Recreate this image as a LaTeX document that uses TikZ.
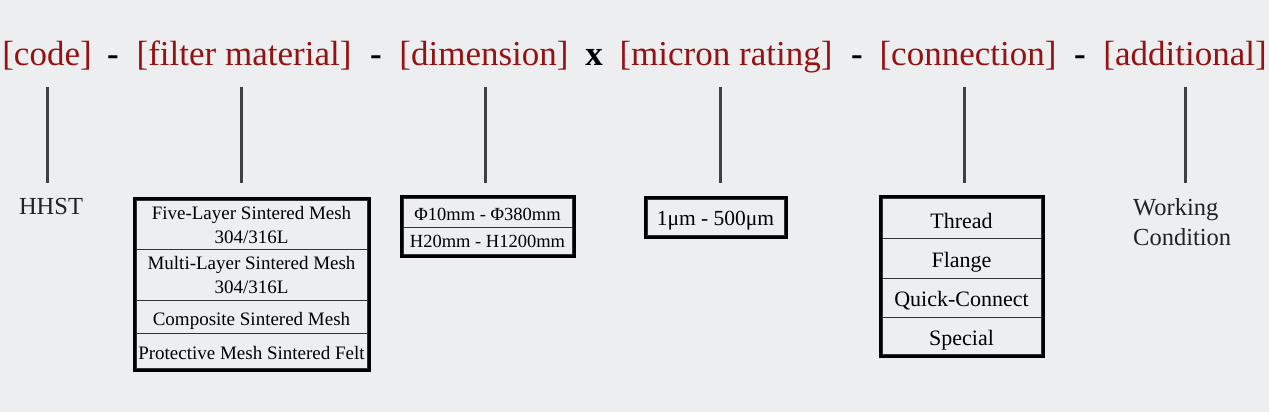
\documentclass[tikz,border=0pt]{standalone}
\usepackage{fontspec}
\setmainfont{Liberation Serif}
\usetikzlibrary{positioning, fit}
\definecolor{pagegray}{HTML}{EDEEF0}
\definecolor{codered}{HTML}{951212}
\definecolor{stemgray}{HTML}{404040}
\definecolor{labelgray}{HTML}{222222}

\begin{document}
\begin{tikzpicture}[x=1pt, y=-1pt,
		head/.style={text=codered, font=\fontsize{35}{40}\selectfont, anchor=base, inner sep=0pt},
		joiner/.style={font=\fontsize{35}{40}\bfseries\selectfont, anchor=base, inner sep=0pt},
		stem/.style={draw=stemgray, line width=3pt},
		cell/.style={draw=black!80, line width=1pt, align=center, inner sep=0pt, outer sep=0pt, anchor=north},
		onerow/.style={cell, text height=17pt, text depth=0pt},
		frame/.style={draw=black, line width=3pt, inner sep=2pt},
		plain/.style={text=labelgray, font=\fontsize{24.5}{30}\selectfont, align=left, inner sep=0pt}]
		% page
		\fill[pagegray] (0,0) rectangle (1269,412);
		\useasboundingbox (0,0) rectangle (1269,412);
		% header
		\node[head] (code) at (47,66) {[code]};
		\node[joiner] (dash-1) at (113,66) {-};
		\node[head] (material) at (244,66) {[filter material]};
		\node[joiner] (dash-2) at (376,66) {-};
		\node[head] (dimension) at (484,66) {[dimension]};
		\node[joiner] (times) at (594,66) {x};
		\node[head] (micron) at (726,66) {[micron rating]};
		\node[joiner] (dash-3) at (857,66) {-};
		\node[head] (connection) at (968,66) {[connection]};
		\node[joiner] (dash-4) at (1080,66) {-};
		\node[head] (additional) at (1185,66) {[additional]};
		% code
		\node[plain, anchor=base] (hhst) at (51,214) {HHST};
		% filter material
		\node[cell, minimum width=231, minimum height=49, font=\fontsize{19}{24}\selectfont] (fm-five) at (251.5,200) {Five-Layer Sintered Mesh\\304/316L};
		\node[cell, minimum width=231, minimum height=51, font=\fontsize{19}{24}\selectfont, below=0pt of fm-five] (fm-multi) {Multi-Layer Sintered Mesh\\304/316L};
		\node[onerow, minimum width=231, minimum height=33, font=\fontsize{19}{24}\selectfont, below=0pt of fm-multi] (fm-comp) {Composite Sintered Mesh};
		\node[onerow, minimum width=231, minimum height=35, font=\fontsize{19}{24}\selectfont, below=0pt of fm-comp] (fm-felt) {Protective Mesh Sintered Felt};
		\node[frame, fit=(fm-five)(fm-felt)] (fm-box) {};
		% dimension
		\node[onerow, text height=14pt, minimum width=169, minimum height=29, font=\fontsize{18.5}{22}\selectfont] (dim-dia) at (487.5,198.5) {Φ10mm - Φ380mm};
		\node[onerow, text height=13pt, minimum width=169, minimum height=27, font=\fontsize{18.5}{22}\selectfont, below=0pt of dim-dia] (dim-h) {H20mm - H1200mm};
		\node[frame, fit=(dim-dia)(dim-h)] (dim-box) {};
		% micron rating
		\node[onerow, minimum width=137, minimum height=36, font=\fontsize{21.5}{26}\selectfont] (mic-range) at (715.5,199) {1μm - 500μm};
		\node[frame, fit=(mic-range)] (mic-box) {};
		% connection
		\node[onerow, text height=19pt, minimum width=159, minimum height=40, font=\fontsize{22}{26}\selectfont] (con-thread) at (961.5,198.5) {Thread};
		\node[onerow, minimum width=159, minimum height=40, font=\fontsize{22}{26}\selectfont, below=0pt of con-thread] (con-flange) {Flange};
		\node[onerow, minimum width=159, minimum height=39, font=\fontsize{22}{26}\selectfont, below=0pt of con-flange] (con-quick) {Quick-Connect};
		\node[onerow, text height=19pt, minimum width=159, minimum height=37, font=\fontsize{22}{26}\selectfont, below=0pt of con-quick] (con-special) {Special};
		\node[frame, fit=(con-thread)(con-special)] (con-box) {};
		% additional
		\node[plain, anchor=base west] (work) at (1133,245) {Working\\Condition};
		% stems
		\coordinate (code-top) at (47,87);
		\coordinate (code-end) at (47,183);
		\coordinate (material-top) at (241,87);
		\coordinate (material-end) at (241,183);
		\coordinate (dimension-top) at (485,87);
		\coordinate (dimension-end) at (485,183);
		\coordinate (micron-top) at (720,87);
		\coordinate (micron-end) at (720,183);
		\coordinate (connection-top) at (964,87);
		\coordinate (connection-end) at (964,183);
		\coordinate (additional-top) at (1185,87);
		\coordinate (additional-end) at (1185,183);
		\path [stem] (code-top) -- (code-end);
		\path [stem] (material-top) -- (material-end);
		\path [stem] (dimension-top) -- (dimension-end);
		\path [stem] (micron-top) -- (micron-end);
		\path [stem] (connection-top) -- (connection-end);
		\path [stem] (additional-top) -- (additional-end);
	\end{tikzpicture}
\end{document}
